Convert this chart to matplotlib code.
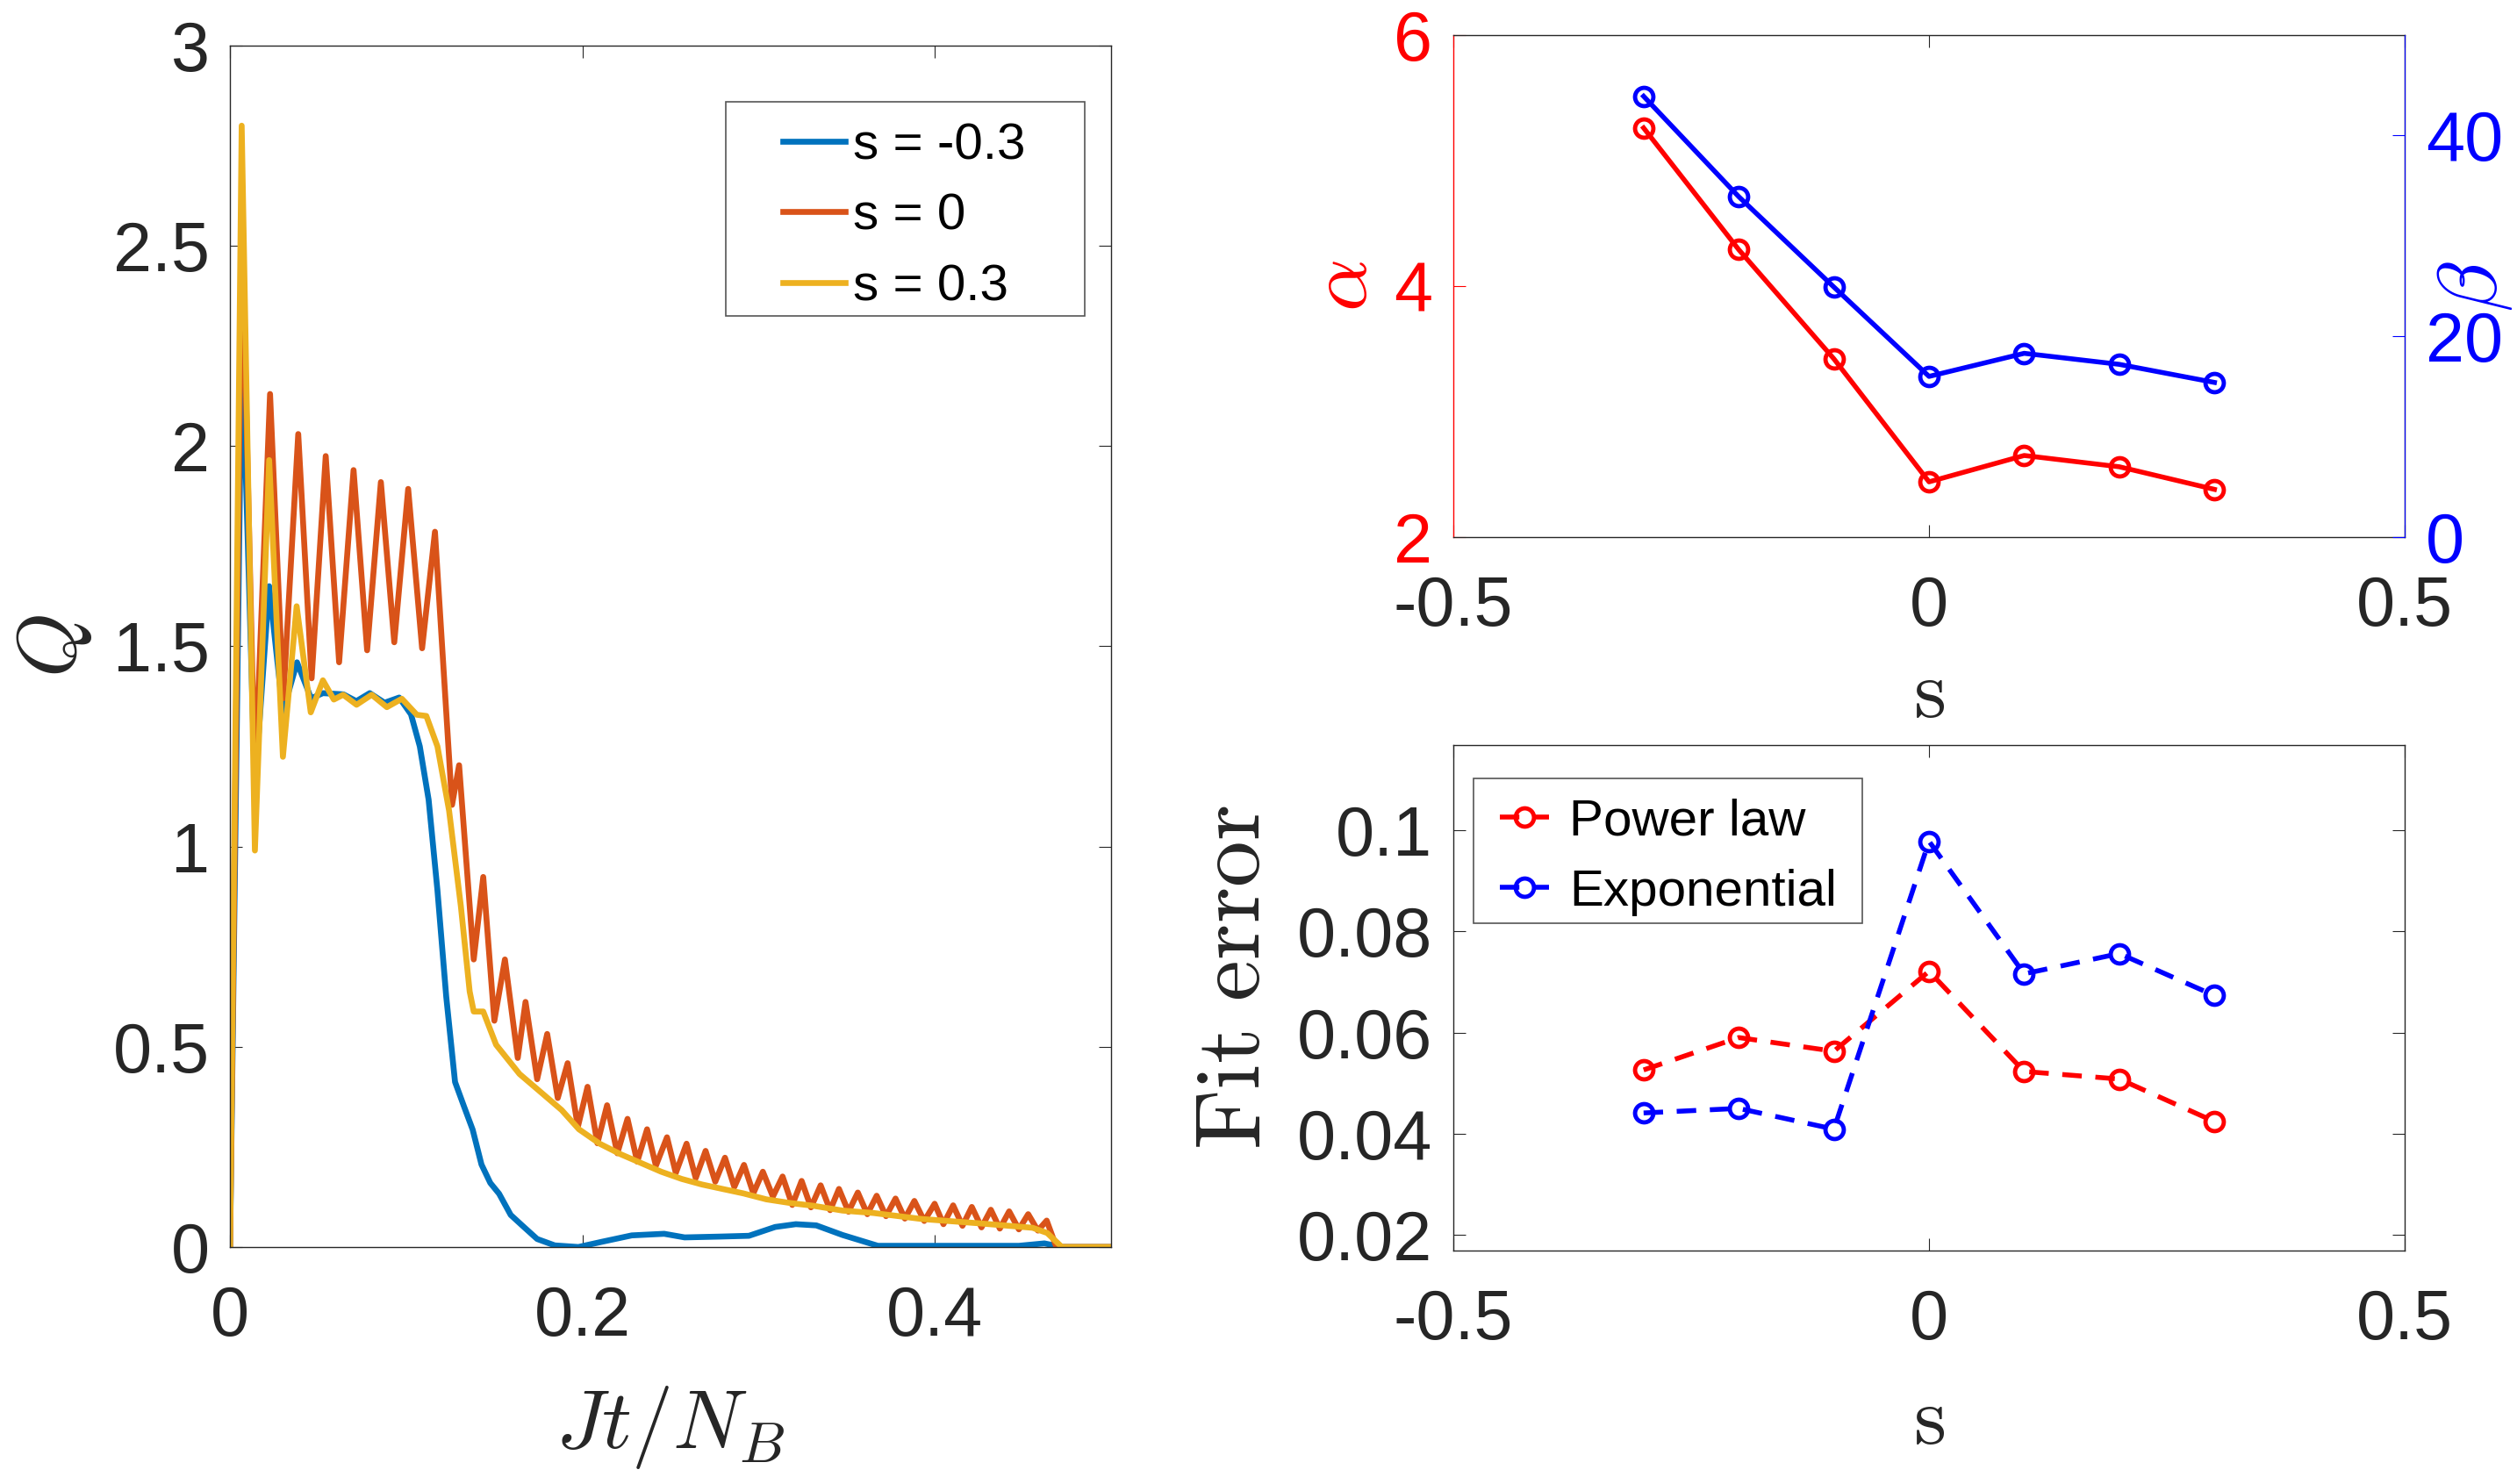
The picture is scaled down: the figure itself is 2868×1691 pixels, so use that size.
import matplotlib
matplotlib.use("Agg")
import matplotlib.pyplot as plt
from matplotlib.patches import Rectangle
from matplotlib.ticker import FormatStrFormatter

plt.rcParams["font.family"] = "Liberation Sans"
plt.rcParams["mathtext.fontset"] = "cm"
plt.rcParams["axes.unicode_minus"] = False

# ---- left panel: Q(t) for three values of s ----
t_m03 = [0, 0.0067, 0.0141, 0.0222, 0.0300, 0.0380, 0.0460, 0.0527, 0.0643, 0.0717,
         0.0793, 0.0877, 0.0960, 0.1027, 0.1077, 0.1127, 0.1177, 0.1227, 0.1277, 0.1327,
         0.1377, 0.1427, 0.1477, 0.1527, 0.1593, 0.1660, 0.1743, 0.1843, 0.1977, 0.2110,
         0.2280, 0.2464, 0.2580, 0.2779, 0.2945, 0.3094, 0.3211, 0.3327, 0.3476, 0.3677,
         0.4477, 0.4622, 0.4720, 0.5]
q_m03 = [0, 2.27, 1.15, 1.65, 1.336, 1.46, 1.37, 1.383, 1.38, 1.363,
         1.383, 1.359, 1.372, 1.33, 1.25, 1.117, 0.891, 0.625, 0.412, 0.352,
         0.293, 0.206, 0.160, 0.133, 0.080, 0.053, 0.020, 0.004, 0.0, 0.013,
         0.029, 0.033, 0.024, 0.026, 0.028, 0.050, 0.057, 0.054, 0.030, 0.003,
         0.003, 0.009, 0.0, 0.0]

t_0 = [0, 0.0067, 0.0141, 0.0227, 0.0302, 0.0387, 0.0463, 0.0543, 0.0619, 0.0701,
       0.0778, 0.0856, 0.0932, 0.1011, 0.1090, 0.1163, 0.1260, 0.1300, 0.1383, 0.1437,
       0.1500, 0.1560, 0.1633, 0.1677, 0.1743, 0.1800, 0.1860, 0.1916, 0.1974, 0.2029,
       0.2085, 0.2140, 0.2198, 0.2256, 0.2311, 0.2367, 0.2417, 0.2480, 0.2530, 0.2591,
       0.2643, 0.2699, 0.2754, 0.2809, 0.2862, 0.2917, 0.2970, 0.3024, 0.3081, 0.3136,
       0.3191, 0.3244, 0.3297, 0.3352, 0.3406, 0.3456, 0.3510, 0.3563, 0.3617, 0.3670,
       0.3723, 0.3777, 0.3830, 0.3884, 0.3940, 0.3999, 0.4049, 0.4104, 0.4157, 0.4210,
       0.4265, 0.4318, 0.4369, 0.4422, 0.4477, 0.4530, 0.4585, 0.4635, 0.4690, 0.5]
q_0 = [0, 2.57, 1.16, 2.13, 1.37, 2.03, 1.42, 1.975, 1.46, 1.94,
       1.49, 1.91, 1.51, 1.893, 1.495, 1.786, 1.104, 1.203, 0.718, 0.924,
       0.565, 0.718, 0.472, 0.612, 0.419, 0.532, 0.372, 0.459, 0.300, 0.400,
       0.259, 0.354, 0.234, 0.320, 0.213, 0.294, 0.203, 0.274, 0.185, 0.258,
       0.172, 0.240, 0.163, 0.223, 0.150, 0.205, 0.134, 0.188, 0.126, 0.176,
       0.105, 0.165, 0.099, 0.154, 0.092, 0.145, 0.088, 0.136, 0.082, 0.128,
       0.077, 0.121, 0.071, 0.115, 0.065, 0.108, 0.057, 0.104, 0.053, 0.100,
       0.049, 0.093, 0.046, 0.089, 0.044, 0.082, 0.041, 0.066, 0.0, 0.0]

t_p03 = [0, 0.0066, 0.0141, 0.0222, 0.0300, 0.0378, 0.0458, 0.0527, 0.0589, 0.0642,
         0.0718, 0.0804, 0.0890, 0.0975, 0.1060, 0.1114, 0.1177, 0.1243, 0.1310, 0.1360,
         0.1383, 0.1437, 0.1510, 0.1643, 0.1760, 0.1882, 0.1980, 0.2098, 0.2215, 0.2331,
         0.2447, 0.2563, 0.2679, 0.2795, 0.2912, 0.3044, 0.3177, 0.3310, 0.3476, 0.3650,
         0.3924, 0.4256, 0.4555, 0.4638, 0.4721, 0.5]
q_p03 = [0, 2.80, 0.99, 1.965, 1.224, 1.60, 1.335, 1.415, 1.367, 1.379,
         1.354, 1.379, 1.348, 1.369, 1.329, 1.326, 1.25, 1.09, 0.851, 0.638,
         0.588, 0.588, 0.505, 0.432, 0.388, 0.342, 0.294, 0.258, 0.232, 0.210,
         0.188, 0.170, 0.156, 0.145, 0.134, 0.119, 0.110, 0.103, 0.091, 0.085,
         0.070, 0.059, 0.048, 0.035, 0.0, 0.0]

# ---- right panels: fit parameters and fit errors vs s ----
s_vals = [-0.3, -0.2, -0.1, 0.0, 0.1, 0.2, 0.3]
alpha = [5.26, 4.29, 3.42, 2.44, 2.65, 2.56, 2.38]
beta = [43.9, 33.9, 24.9, 16.0, 18.3, 17.2, 15.4]
err_power = [0.0526, 0.0590, 0.0563, 0.0721, 0.0523, 0.0508, 0.0424]
err_expo = [0.0441, 0.0450, 0.0409, 0.0978, 0.0716, 0.0756, 0.0673]

DARK = "#262626"
TICK_FS = 57
LABEL_FS = 68
LEG_FS = 42
LW_Q = 4.8
LW_S = 4.0


def box_axes(ax, color=DARK):
    for sp in ax.spines.values():
        sp.set_color(color)
        sp.set_linewidth(1.0)
    ax.tick_params(direction="in", length=10, width=0.8, colors=DARK,
                   labelsize=TICK_FS, top=True, right=True)
    ax.tick_params(axis="x", pad=31)
    ax.tick_params(axis="y", pad=17)


fig = plt.figure(figsize=(28.68, 16.91), dpi=100)

# left panel
ax1 = fig.add_axes([0.0914, 0.1597, 0.350, 0.8096])
ax1.plot(t_m03, q_m03, color="#0072BD", lw=LW_Q, label="s = -0.3")
ax1.plot(t_0, q_0, color="#D95319", lw=LW_Q, label="s = 0")
ax1.plot(t_p03, q_p03, color="#EDB120", lw=LW_Q, label="s = 0.3")
ax1.set_xlim(0, 0.5)
ax1.set_ylim(0, 3)
ax1.set_xticks([0, 0.2, 0.4])
ax1.set_yticks([0, 0.5, 1, 1.5, 2, 2.5, 3])
ax1.xaxis.set_major_formatter(FormatStrFormatter("%g"))
ax1.yaxis.set_major_formatter(FormatStrFormatter("%g"))
box_axes(ax1)
ax1.set_xlabel(r"$Jt/N_B$", fontsize=LABEL_FS, color=DARK)
ax1.xaxis.set_label_coords(0.5, -0.150)
ax1.xaxis.label.set_va("center")
ax1.set_ylabel(r"$Q$", fontsize=LABEL_FS, color=DARK)
ax1.yaxis.set_label_coords(-0.199, 0.5)
ax1.yaxis.label.set_va("center")
ax1.add_patch(Rectangle((0.563, 0.775), 0.407, 0.178, transform=ax1.transAxes,
                        facecolor="white", edgecolor="#555555", lw=1.2, zorder=4.5))
ax1.legend(loc="upper left", bbox_to_anchor=(0.6275, 0.936), frameon=False,
           fontsize=LEG_FS, handlelength=1.22, handletextpad=0.15,
           labelspacing=0.45, borderpad=0, borderaxespad=0)

# top right: alpha (left axis) and beta (right axis)
ax2 = fig.add_axes([0.5774, 0.6381, 0.378, 0.3383])
ax2b = ax2.twinx()
ax2.plot(s_vals, alpha, "-o", color="red", lw=LW_S, ms=15, mew=3.5, mfc="none")
ax2b.plot(s_vals, beta, "-o", color="blue", lw=LW_S, ms=15, mew=3.5, mfc="none")
ax2.set_xlim(-0.5, 0.5)
ax2.set_ylim(2, 6)
ax2b.set_ylim(0, 50)
ax2.set_xticks([-0.5, 0, 0.5])
ax2.set_yticks([2, 4, 6])
ax2b.set_yticks([0, 20, 40])
ax2.xaxis.set_major_formatter(FormatStrFormatter("%g"))
for sp in ax2.spines.values():
    sp.set_color(DARK)
    sp.set_linewidth(1.0)
ax2.spines["left"].set_color("red")
ax2b.spines["right"].set_color("blue")
ax2b.spines["left"].set_visible(False)
ax2b.spines["top"].set_visible(False)
ax2b.spines["bottom"].set_visible(False)
ax2.tick_params(axis="x", direction="in", length=10, width=0.8, colors=DARK,
                labelsize=TICK_FS, top=True, pad=31)
ax2.tick_params(axis="y", direction="in", length=10, width=0.8, colors="red",
                labelsize=TICK_FS, pad=17, right=False)
ax2b.tick_params(axis="y", direction="in", length=10, width=0.8, colors="blue",
                 labelsize=TICK_FS, pad=17)
ax2.set_xlabel(r"$\mathrm{s}$", fontsize=LABEL_FS, color=DARK)
ax2.xaxis.set_label_coords(0.5, -0.315)
ax2.xaxis.label.set_va("center")
ax2.set_ylabel(r"$\alpha$", fontsize=LABEL_FS, color="red")
ax2.yaxis.set_label_coords(-0.114, 0.5)
ax2.yaxis.label.set_va("center")
ax2b.set_ylabel(r"$\beta$", fontsize=LABEL_FS, color="blue", rotation=90)
ax2b.yaxis.set_label_coords(1.074, 0.5)
ax2b.yaxis.label.set_va("center")

# bottom right: fit errors
ax3 = fig.add_axes([0.5774, 0.1573, 0.378, 0.3406])
ax3.plot(s_vals, err_power, "--o", color="red", lw=LW_S, ms=15, mew=3.5,
         mfc="none", dashes=(4, 2.8), label="Power law")
ax3.plot(s_vals, err_expo, "--o", color="blue", lw=LW_S, ms=15, mew=3.5,
         mfc="none", dashes=(4, 2.8), label="Exponential")
ax3.set_xlim(-0.5, 0.5)
ax3.set_ylim(0.0169, 0.1168)
ax3.set_xticks([-0.5, 0, 0.5])
ax3.set_yticks([0.02, 0.04, 0.06, 0.08, 0.1])
ax3.xaxis.set_major_formatter(FormatStrFormatter("%g"))
ax3.yaxis.set_major_formatter(FormatStrFormatter("%g"))
box_axes(ax3)
ax3.set_xlabel(r"$\mathrm{s}$", fontsize=LABEL_FS, color=DARK)
ax3.xaxis.set_label_coords(0.5, -0.340)
ax3.xaxis.label.set_va("center")
ax3.set_ylabel(r"$\mathrm{Fit\ error}$", fontsize=76, color=DARK)
ax3.yaxis.set_label_coords(-0.229, 0.54)
ax3.yaxis.label.set_va("center")
ax3.add_patch(Rectangle((0.0212, 0.6476), 0.4087, 0.2865, transform=ax3.transAxes,
                        facecolor="white", edgecolor="#555555", lw=1.2, zorder=4.5))
ax3.legend(loc="upper left", bbox_to_anchor=(0.0489, 0.895), frameon=False,
           fontsize=LEG_FS, handlelength=0.96, handletextpad=0.4, numpoints=1,
           labelspacing=0.45, borderpad=0, borderaxespad=0)

fig.savefig("out.png", dpi=100)
